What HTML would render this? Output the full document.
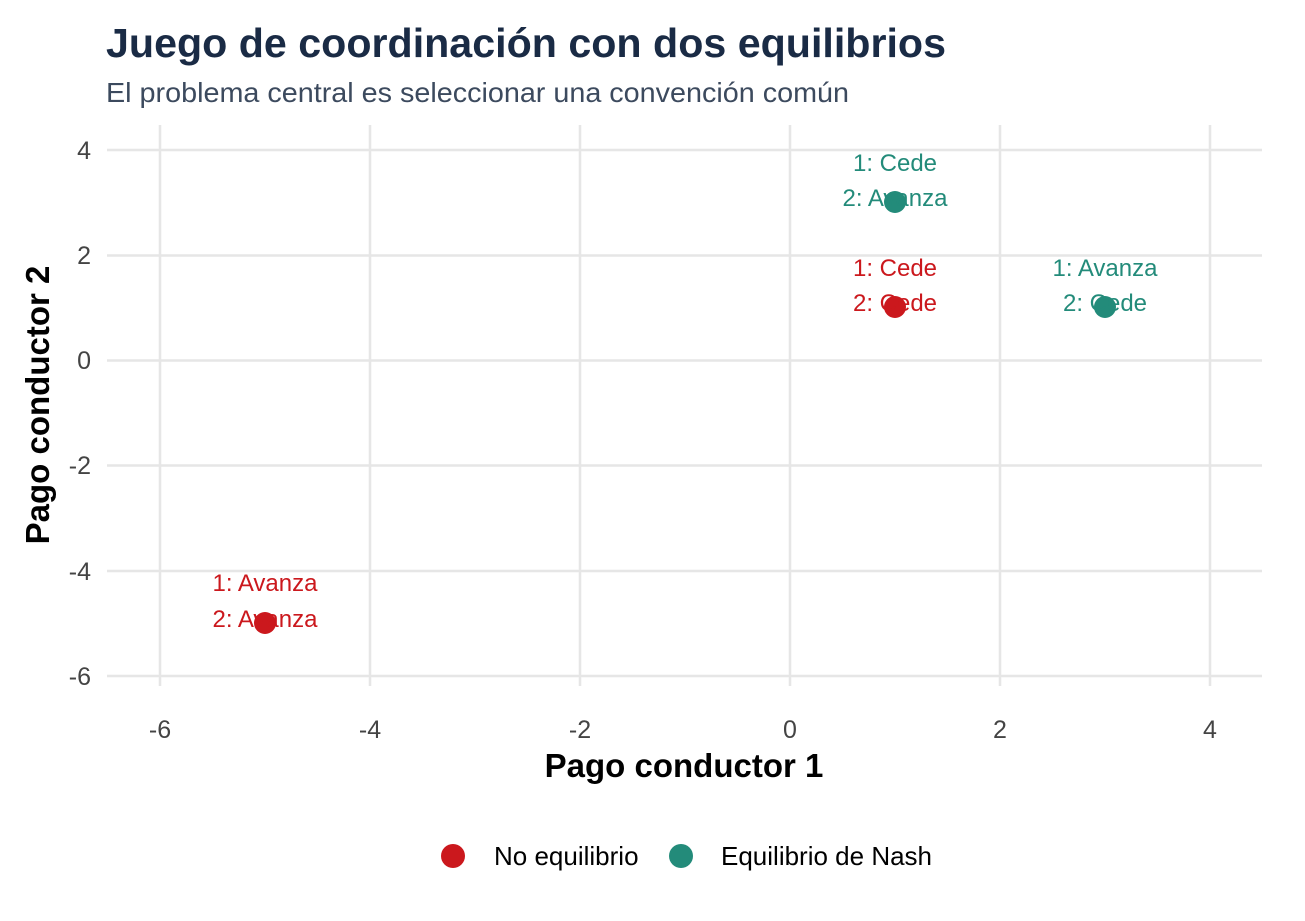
<!DOCTYPE html>
<html><head><meta charset="utf-8"><style>
html,body{margin:0;padding:0;background:#fff;}
svg{display:block;font-family:"Liberation Sans",Arial,sans-serif;}
</style></head><body>
<svg width="1305" height="921" viewBox="0 0 1305 921" xmlns="http://www.w3.org/2000/svg">
<rect width="1305" height="921" fill="#fff"/>
<text x="106" y="57" font-size="41" font-weight="bold" fill="#1a2b45" textLength="840" lengthAdjust="spacingAndGlyphs">Juego de coordinación con dos equilibrios</text>
<text x="106" y="102" font-size="28" fill="#3c4a5e" textLength="743" lengthAdjust="spacingAndGlyphs">El problema central es seleccionar una convención común</text>
<g stroke="#e6e6e6" stroke-width="2.5">
<line x1="160" y1="125" x2="160" y2="686"/>
<line x1="370" y1="125" x2="370" y2="686"/>
<line x1="580" y1="125" x2="580" y2="686"/>
<line x1="790" y1="125" x2="790" y2="686"/>
<line x1="1000" y1="125" x2="1000" y2="686"/>
<line x1="1210" y1="125" x2="1210" y2="686"/>
<line x1="107" y1="150" x2="1262" y2="150"/>
<line x1="107" y1="255.5" x2="1262" y2="255.5"/>
<line x1="107" y1="360.5" x2="1262" y2="360.5"/>
<line x1="107" y1="465.5" x2="1262" y2="465.5"/>
<line x1="107" y1="571" x2="1262" y2="571"/>
<line x1="107" y1="676" x2="1262" y2="676"/>
</g>
<g font-size="25" fill="#444" text-anchor="end">
<text x="91" y="159">4</text><text x="91" y="264">2</text><text x="91" y="369">0</text>
<text x="91" y="474">-2</text><text x="91" y="580">-4</text><text x="91" y="685">-6</text>
</g>
<g font-size="25" fill="#444" text-anchor="middle">
<text x="160" y="738">-6</text><text x="370" y="738">-4</text><text x="580" y="738">-2</text>
<text x="790" y="738">0</text><text x="1000" y="738">2</text><text x="1210" y="738">4</text>
</g>
<text x="684" y="777" font-size="33" font-weight="bold" text-anchor="middle" fill="#000">Pago conductor 1</text>
<text transform="translate(49,405) rotate(-90)" font-size="33" font-weight="bold" text-anchor="middle" fill="#000">Pago conductor 2</text>
<circle cx="895" cy="202" r="11" fill="#238b7a"/>
<circle cx="1105" cy="307" r="11" fill="#238b7a"/>
<circle cx="895" cy="307" r="11" fill="#cb181d"/>
<circle cx="265" cy="623" r="11" fill="#cb181d"/>
<g font-size="24" text-anchor="middle">
<text x="895" y="171" fill="#238b7a">1: Cede</text><text x="895" y="206" fill="#238b7a">2: Avanza</text>
<text x="1105" y="276" fill="#238b7a">1: Avanza</text><text x="1105" y="311" fill="#238b7a">2: Cede</text>
<text x="895" y="276" fill="#cb181d">1: Cede</text><text x="895" y="311" fill="#cb181d">2: Cede</text>
<text x="265" y="591" fill="#cb181d">1: Avanza</text><text x="265" y="627" fill="#cb181d">2: Avanza</text>
</g>
<circle cx="453" cy="856" r="12" fill="#cb181d"/>
<text x="494" y="865" font-size="26" fill="#000">No equilibrio</text>
<circle cx="681" cy="856" r="12" fill="#238b7a"/>
<text x="721" y="865" font-size="26" fill="#000">Equilibrio de Nash</text>
</svg>
</body></html>
